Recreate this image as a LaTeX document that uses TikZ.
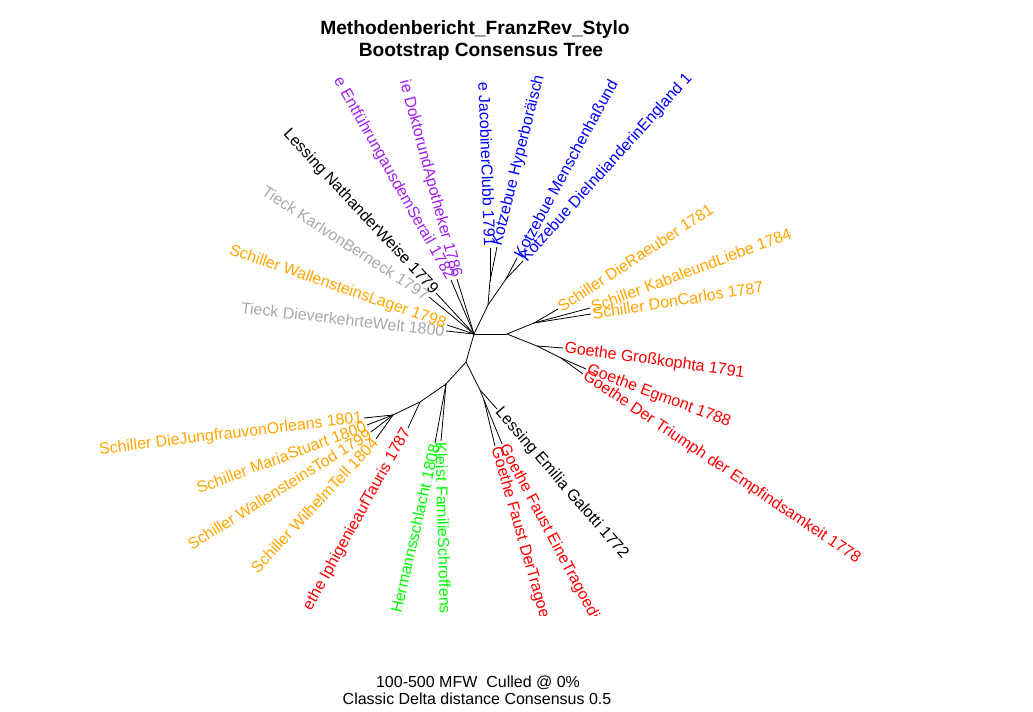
\documentclass[tikz,border=0pt]{standalone}
\usepackage{fontspec}
\setmainfont{Liberation Sans}
\usepackage{tikz}

\definecolor{rorange}{HTML}{FFA500}
\definecolor{rred}{HTML}{FF0000}
\definecolor{rblue}{HTML}{0000FF}
\definecolor{rpurple}{HTML}{A020F0}
\definecolor{rgrey}{HTML}{A9A9A9}
\definecolor{rgreen}{HTML}{00FF00}

\begin{document}
\begin{tikzpicture}[x=0.75pt, y=-0.75pt,
    branch/.style={line width=0.6pt, black},
    tipout/.style={anchor=west, inner xsep=1pt, inner ysep=0pt, font=\fontsize{12}{14}\selectfont},
    tipin/.style={anchor=east, inner xsep=1pt, inner ysep=0pt, font=\fontsize{12}{14}\selectfont}]
  \useasboundingbox (0,0) rectangle (1033,712);

  % titles
  \node[anchor=base, font=\fontsize{14.4}{17}\selectfont\bfseries] (title1) at (475,35) {Methodenbericht\_FranzRev\_Stylo};
  \node[anchor=base, font=\fontsize{14.4}{17}\selectfont\bfseries] (title2) at (481,57) {Bootstrap Consensus Tree};
  \node[anchor=base, font=\fontsize{12}{14}\selectfont] (sub1) at (478,688) {100-500 MFW\ \ Culled @ 0\%};
  \node[anchor=base, font=\fontsize{12}{14}\selectfont] (sub2) at (477,705) {Classic Delta distance Consensus 0.5};

  % inner nodes
  \coordinate (R) at (474,334);
  \coordinate (U) at (488,305);
  \coordinate (W) at (490,281);
  \coordinate (V) at (506,279);
  \coordinate (A) at (507,334);
  \coordinate (B) at (534,323);
  \coordinate (C) at (537,346);
  \coordinate (D) at (561,358);
  \coordinate (E) at (466,362);
  \coordinate (G) at (480,390);
  \coordinate (H) at (484,400);
  \coordinate (F) at (446,384);
  \coordinate (I) at (420,402);
  \coordinate (J) at (393,415);

  % tips
  \coordinate (tWelt) at (446,331);
  \coordinate (tLager) at (447,325);
  \coordinate (tKarl) at (429,297);
  \coordinate (tNathan) at (436,293);
  \coordinate (tEntf) at (451,280);
  \coordinate (tDoktor) at (457,279);
  \coordinate (tJacob) at (490,248);
  \coordinate (tHyper) at (497,247);
  \coordinate (tMensch) at (517,258);
  \coordinate (tIndian) at (523,261);
  \coordinate (tRaeuber) at (558,309);
  \coordinate (tKabale) at (590,308);
  \coordinate (tCarlos) at (591,314);
  \coordinate (tGross) at (563,348);
  \coordinate (tEgmont) at (586,369);
  \coordinate (tTriumph) at (583,374);
  \coordinate (tEmilia) at (497,409);
  \coordinate (tFaustE) at (502,444);
  \coordinate (tFaustD) at (495,446);
  \coordinate (tKleistF) at (441,441);
  \coordinate (tKleistH) at (435,443);
  \coordinate (tIphi) at (408,428);
  \coordinate (tJung) at (364,418);
  \coordinate (tMaria) at (367,425);
  \coordinate (tWTod) at (371,432);
  \coordinate (tTell) at (376,439);

  % branches
  \draw[branch] (R) -- (tWelt);
  \draw[branch] (R) -- (tLager);
  \draw[branch] (R) -- (tKarl);
  \draw[branch] (R) -- (tNathan);
  \draw[branch] (R) -- (tEntf);
  \draw[branch] (R) -- (tDoktor);
  \draw[branch] (R) -- (U);
  \draw[branch] (U) -- (W);
  \draw[branch] (U) -- (V);
  \draw[branch] (W) -- (tJacob);
  \draw[branch] (W) -- (tHyper);
  \draw[branch] (V) -- (tMensch);
  \draw[branch] (V) -- (tIndian);
  \draw[branch] (R) -- (A);
  \draw[branch] (A) -- (B);
  \draw[branch] (B) -- (tRaeuber);
  \draw[branch] (B) -- (tKabale);
  \draw[branch] (B) -- (tCarlos);
  \draw[branch] (A) -- (C);
  \draw[branch] (C) -- (tGross);
  \draw[branch] (C) -- (D);
  \draw[branch] (D) -- (tEgmont);
  \draw[branch] (D) -- (tTriumph);
  \draw[branch] (R) -- (E);
  \draw[branch] (E) -- (G);
  \draw[branch] (G) -- (tEmilia);
  \draw[branch] (G) -- (H);
  \draw[branch] (H) -- (tFaustE);
  \draw[branch] (H) -- (tFaustD);
  \draw[branch] (E) -- (F);
  \draw[branch] (F) -- (tKleistF);
  \draw[branch] (F) -- (tKleistH);
  \draw[branch] (F) -- (I);
  \draw[branch] (I) -- (tIphi);
  \draw[branch] (I) -- (J);
  \draw[branch] (J) -- (tJung);
  \draw[branch] (J) -- (tMaria);
  \draw[branch] (J) -- (tWTod);
  \draw[branch] (J) -- (tTell);

  % tip labels, cut at the plot region
  \begin{scope}
    \clip (0,75) rectangle (1033,616);
    \node[tipin, rgrey, rotate=-6.5] (lWelt) at (tWelt) {Tieck DieverkehrteWelt 1800};
    \node[tipin, rorange, rotate=-19] (lLager) at (tLager) {Schiller WallensteinsLager 1798};
    \node[tipin, rgrey, rotate=-33] (lKarl) at (tKarl) {Tieck KarlvonBerneck 1797};
    \node[tipin, black, rotate=-47] (lNathan) at (tNathan) {Lessing NathanderWeise 1779};
    \node[tipin, rpurple, rotate=-60.5] (lEntf) at (tEntf) {e EntführungausdemSerail 1782};
    \node[tipin, rpurple, rotate=-75] (lDoktor) at (tDoktor) {ie DoktorundApotheker 1786};
    \node[tipin, rblue, rotate=-88] (lJacob) at (tJacob) {e JacobinerClubb 1791};
    \node[tipout, rblue, rotate=76] (lHyper) at (tHyper) {Kotzebue Hyperboräisch};
    \node[tipout, rblue, rotate=61.5] (lMensch) at (tMensch) {Kotzebue Menschenhaßund};
    \node[tipout, rblue, rotate=48] (lIndian) at (tIndian) {Kotzebue DieIndianderinEngland 1};
    \node[tipout, rorange, rotate=33.5] (lRaeuber) at (tRaeuber) {Schiller DieRaeuber 1781};
    \node[tipout, rorange, rotate=20.5] (lKabale) at (tKabale) {Schiller KabaleundLiebe 1784};
    \node[tipout, rorange, rotate=9] (lCarlos) at (tCarlos) {Schiller DonCarlos 1787};
    \node[tipout, rred, rotate=-8] (lGross) at (tGross) {Goethe Großkophta 1791};
    \node[tipout, rred, rotate=-20.5] (lEgmont) at (tEgmont) {Goethe Egmont 1788};
    \node[tipout, rred, rotate=-34] (lTriumph) at (tTriumph) {Goethe Der Triumph der Empfindsamkeit 1778};
    \node[tipout, black, rotate=-49] (lEmilia) at (tEmilia) {Lessing Emilia Galotti 1772};
    \node[tipout, rred, rotate=-62] (lFaustE) at (tFaustE) {Goethe Faust EineTragoedi};
    \node[tipout, rred, rotate=-74] (lFaustD) at (tFaustD) {Goethe Faust DerTragoe};
    \node[tipout, rgreen, rotate=-88.5] (lKleistF) at (tKleistF) {Kleist FamilieSchroffens};
    \node[tipin, rgreen, rotate=77] (lKleistH) at (tKleistH) {Hermannsschlacht 1808};
    \node[tipin, rred, rotate=61] (lIphi) at (tIphi) {ethe IphigenieaufTauris 1787};
    \node[tipin, rorange, rotate=7] (lJung) at (tJung) {Schiller DieJungfrauvonOrleans 1801};
    \node[tipin, rorange, rotate=20.5] (lMaria) at (tMaria) {Schiller MariaStuart 1800};
    \node[tipin, rorange, rotate=32] (lWTod) at (tWTod) {Schiller WallensteinsTod 1799};
    \node[tipin, rorange, rotate=47] (lTell) at (tTell) {Schiller WilhelmTell 1804};
  \end{scope}
\end{tikzpicture}
\end{document}
